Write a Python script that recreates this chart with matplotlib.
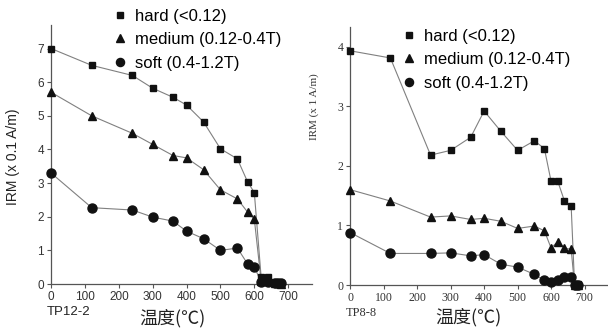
import matplotlib.pyplot as plt
from matplotlib.lines import Line2D

# Data (temperature in degC)
temps = [0, 120, 240, 300, 360, 400, 450, 500, 550, 580, 600, 620, 640, 660, 670, 680]

# TP12-2 (x 0.1 A/m)
tp12_hard = [7.0, 6.5, 6.2, 5.82, 5.55, 5.32, 4.82, 4.02, 3.72, 3.04, 2.72, 0.22, 0.22, 0.05, 0.04, 0.02]
tp12_medium = [5.7, 5.0, 4.48, 4.15, 3.82, 3.75, 3.4, 2.8, 2.53, 2.14, 1.93, 0.1, 0.1, 0.03, 0.02, 0.0]
tp12_soft = [3.3, 2.27, 2.2, 1.99, 1.87, 1.57, 1.35, 1.0, 1.07, 0.6, 0.52, 0.05, 0.05, 0.04, 0.03, 0.02]

# TP8-8 (x 1 A/m)
tp8_hard = [3.93, 3.81, 2.18, 2.26, 2.48, 2.92, 2.58, 2.26, 2.42, 2.29, 1.74, 1.74, 1.41, 1.32, 0.02, 0.02]
tp8_medium = [1.6, 1.41, 1.14, 1.16, 1.1, 1.12, 1.07, 0.95, 0.99, 0.91, 0.62, 0.73, 0.62, 0.6, 0.0, 0.0]
tp8_soft = [0.88, 0.53, 0.53, 0.54, 0.49, 0.51, 0.35, 0.3, 0.18, 0.08, 0.05, 0.09, 0.14, 0.14, 0.0, 0.0]

labels = ["hard (<0.12)", "medium (0.12-0.4T)", "soft (0.4-1.2T)"]
markers = ["s", "^", "o"]
msizes = [5, 6, 6.5]

LINE = "#808080"
MARK = "#111111"
AXC = "#555555"
CJK = ["Noto Sans CJK SC", "DejaVu Sans"]

fig = plt.figure(figsize=(6.08, 3.33), dpi=100)
ax1 = fig.add_axes([0.084, 0.147, 0.429, 0.778])
ax2 = fig.add_axes([0.576, 0.144, 0.424, 0.775])


def draw(ax, series, ylim, yticks, tickfont):
    for vals, m, ms in zip(series, markers, msizes):
        ax.plot(temps, vals, color=LINE, lw=0.8, zorder=2, clip_on=False)
        ax.plot(temps, vals, linestyle="none", marker=m, ms=ms, color=MARK,
                zorder=3, clip_on=False)
    ax.set_xlim(0, 770)
    ax.set_ylim(0, ylim)
    ax.set_xticks(range(0, 701, 100))
    ax.set_yticks(yticks)
    for s in ["top", "right"]:
        ax.spines[s].set_visible(False)
    for s in ["left", "bottom"]:
        ax.spines[s].set_color(AXC)
        ax.spines[s].set_linewidth(0.9)
    ax.tick_params(colors=AXC, length=3, width=0.8, pad=2)
    for t in ax.get_xticklabels() + ax.get_yticklabels():
        t.set_family(tickfont)
        t.set_color("#333333")
        t.set_fontsize(8.5)


draw(ax1, [tp12_hard, tp12_medium, tp12_soft], 7.7, range(0, 8), "Liberation Sans")
draw(ax2, [tp8_hard, tp8_medium, tp8_soft], 4.33, range(0, 5), "Liberation Serif")

handles = [Line2D([], [], linestyle="none", marker=m, color=MARK, ms=ms * 0.9)
           for m, ms in zip(markers, msizes)]
for anchor in [(0.178, 0.994), (0.653, 0.934)]:
    fig.legend(handles, labels, loc="upper left", bbox_to_anchor=anchor,
               frameon=False, handlelength=0.6, handletextpad=0.6,
               labelspacing=0.52, borderaxespad=0,
               prop={"family": "Liberation Sans", "size": 12})

fig.text(0.021, 0.53, "IRM (x 0.1 A/m)", rotation=90, ha="center", va="center",
         family="Liberation Sans", fontsize=10, color="#222222")
fig.text(0.516, 0.68, "IRM (x 1 A/m)", rotation=90, ha="center", va="center",
         family="Liberation Serif", fontsize=8, color="#333333")

fig.text(0.077, 0.063, "TP12-2", family="Liberation Sans", fontsize=9.5,
         color="#222222", va="center")
fig.text(0.568, 0.06, "TP8-8", family="Liberation Serif", fontsize=9,
         color="#333333", va="center")
fig.text(0.283, 0.045, "温度(℃)", family=CJK, fontsize=13, ha="center",
         va="center", color="#222222")
fig.text(0.771, 0.048, "温度(℃)", family=CJK, fontsize=13, ha="center",
         va="center", color="#222222")

fig.savefig("out.png", dpi=100, facecolor="white")
